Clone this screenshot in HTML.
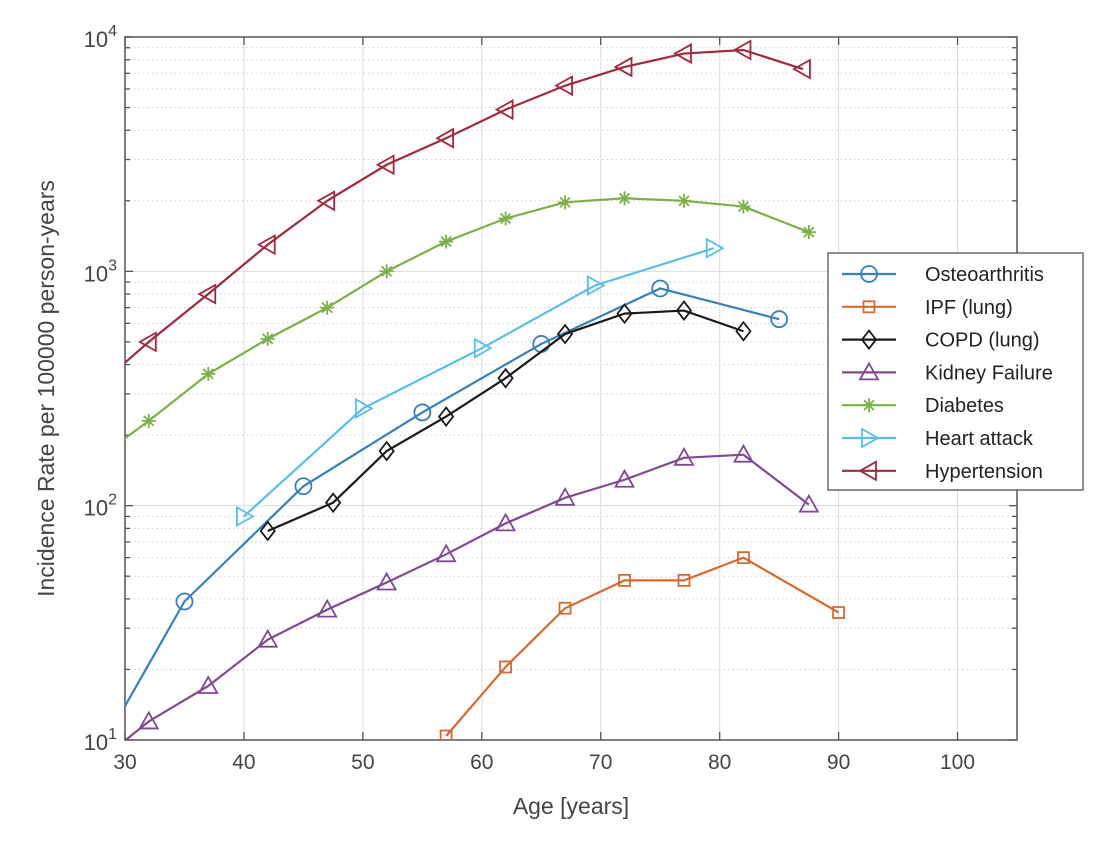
<!DOCTYPE html>
<html><head><meta charset="utf-8"><style>
body{margin:0;background:#fff;}
svg{font-family:"Liberation Sans",sans-serif;}
</style></head><body>
<svg id="chart" width="1118" height="838" xmlns="http://www.w3.org/2000/svg"></svg>
<script>
const hyperAge=[27,32,37,42,47,52,57,62,67,72,77,82,87];
const hyperVal=[300,500,800,1300,2000,2850,3700,4900,6200,7450,8500,8800,7300];
const diabAge=[27,32,37,42,47,52,57,62,67,72,77,82,87.5];
const diabVal=[150,230,365,515,700,1000,1340,1680,1970,2050,2000,1890,1470];
const osteoAge=[25,35,45,55,65,75,85];
const osteoVal=[5,39,121,250,490,845,625];
const ipfAge=[57,62,67,72,77,82,90];
const ipfVal=[10.4,20.5,36.5,48,48,60,35];
const copdAge=[42,47.5,52,57,62,67,72,77,82];
const copdVal=[78,103,171,240,350,540,660,680,555];
const kidAge=[27,32,37,42,47,52,57,62,67,72,77,82,87.5];
const kidVal=[7.5,12,17,26.8,36,47,62,84,108,129,160,165,101];
const heartAge=[40,50,60,69.5,79.5];
const heartVal=[90,260,470,870,1255];
const xTicks=[30,40,50,60,70,80,90,100];
const yTicks=[1,2,3,4];

const NS="http://www.w3.org/2000/svg";
const svg=document.getElementById('chart');
const L=125,R=1017,T=37,B=740;
const X=a=>L+(a-30)/(105-30)*(R-L);
const Y=v=>B-(Math.log10(v)-1)/3*(B-T);
function mk(tag,attrs,parent){const e=document.createElementNS(NS,tag);for(const k in attrs)e.setAttribute(k,attrs[k]);(parent||svg).appendChild(e);return e;}

const defs=mk('defs',{});
const cp=mk('clipPath',{id:'clip'},defs);
mk('rect',{x:L,y:T,width:R-L,height:B-T},cp);

const grid=mk('g',{});


for(let d=1;d<4;d++){for(let m=2;m<=9;m++){const y=Y(m*Math.pow(10,d));mk('line',{x1:L,x2:R,y1:y,y2:y,stroke:'#cfcfcf','stroke-dasharray':'1.5,3'},grid);}}
xTicks.forEach(a=>{if(a>30)mk('line',{x1:X(a),x2:X(a),y1:T,y2:B,stroke:'#dcdcdc'},grid);});
yTicks.forEach(p=>{if(p>1&&p<4)mk('line',{x1:L,x2:R,y1:Y(Math.pow(10,p)),y2:Y(Math.pow(10,p)),stroke:'#dcdcdc'},grid);});

const box=mk('rect',{x:L,y:T,width:R-L,height:B-T,fill:'none',stroke:'#555','stroke-width':1.5});



xTicks.forEach(a=>{
  mk('line',{x1:X(a),x2:X(a),y1:B,y2:B-8,stroke:'#555','stroke-width':1.3});
  mk('line',{x1:X(a),x2:X(a),y1:T,y2:T+8,stroke:'#555','stroke-width':1.3});
  const t=mk('text',{x:X(a),y:B+29,'text-anchor':'middle','font-size':21,fill:'#444'});
  t.textContent=a;
  
  
});
yTicks.forEach(p=>{
  const y=Y(Math.pow(10,p));
  mk('line',{x1:L,x2:L+8,y1:y,y2:y,stroke:'#555','stroke-width':1.3});
  mk('line',{x1:R,x2:R-8,y1:y,y2:y,stroke:'#555','stroke-width':1.3});
  const t=mk('text',{x:L-8,y:y+10,'text-anchor':'end','font-size':22,fill:'#444'});
  t.innerHTML='10<tspan dy="-11" font-size="16">'+p+'</tspan>';
  
  
});
for(let d=1;d<4;d++){for(let m=2;m<=9;m++){const y=Y(m*Math.pow(10,d));mk('line',{x1:L,x2:L+5,y1:y,y2:y,stroke:'#555','stroke-width':1.3});mk('line',{x1:R,x2:R-5,y1:y,y2:y,stroke:'#555','stroke-width':1.3});}}

const xl=mk('text',{x:(L+R)/2,y:814,'text-anchor':'middle','font-size':23,fill:'#444'});
xl.textContent='Age [years]';


const yl=mk('text',{x:0,y:0,'text-anchor':'middle','font-size':23,fill:'#444',transform:'translate(54,'+((T+B)/2)+') rotate(-90)'});
yl.textContent='Incidence Rate per 100000 person-years';



function marker(g,type,x,y,c){
  const s=8;
  if(type==='o')mk('circle',{cx:x,cy:y,r:s,fill:'none',stroke:c,'stroke-width':1.8},g);
  else if(type==='s')mk('rect',{x:x-5.5,y:y-5.5,width:11,height:11,fill:'none',stroke:c,'stroke-width':1.8},g);
  else if(type==='d')mk('polygon',{points:`${x},${y-9} ${x+7},${y} ${x},${y+9} ${x-7},${y}`,fill:'none',stroke:c,'stroke-width':1.8},g);
  else if(type==='^')mk('polygon',{points:`${x},${y-9} ${x+9},${y+7} ${x-9},${y+7}`,fill:'none',stroke:c,'stroke-width':1.8},g);
  else if(type==='>')mk('polygon',{points:`${x+9},${y} ${x-7},${y-9} ${x-7},${y+9}`,fill:'none',stroke:c,'stroke-width':1.8},g);
  else if(type==='<')mk('polygon',{points:`${x-9},${y} ${x+7},${y-9} ${x+7},${y+9}`,fill:'none',stroke:c,'stroke-width':1.8},g);
  else if(type==='*'){for(let k=0;k<4;k++){const an=k*Math.PI/4;mk('line',{x1:x-7*Math.cos(an),y1:y-7*Math.sin(an),x2:x+7*Math.cos(an),y2:y+7*Math.sin(an),stroke:c,'stroke-width':1.8},g);}}
}
const series=[
  ['Osteoarthritis',osteoAge,osteoVal,'#3A7EBA','o','series-osteoarthritis'],
  ['IPF (lung)',ipfAge,ipfVal,'#D46A33','s','series-ipf'],
  ['COPD (lung)',copdAge,copdVal,'#1a1a1a','d','series-copd'],
  ['Kidney Failure',kidAge,kidVal,'#7E4A93','^','series-kidney-failure'],
  ['Diabetes',diabAge,diabVal,'#7DAF4A','*','series-diabetes'],
  ['Heart attack',heartAge,heartVal,'#5CBDE6','>','series-heart-attack'],
  ['Hypertension',hyperAge,hyperVal,'#9E2A3E','<','series-hypertension']
];
series.forEach(([name,ages,vals,c,m,dn])=>{
  const g=mk('g',{'clip-path':'url(#clip)'});
  
  
  mk('polyline',{points:ages.map((a,i)=>X(a)+','+Y(vals[i])).join(' '),fill:'none',stroke:c,'stroke-width':2.2},g);
  ages.forEach((a,i)=>marker(g,m,X(a),Y(vals[i]),c));
});

const lg=mk('g',{});


mk('rect',{x:828,y:253,width:255,height:237,fill:'#fff',stroke:'#555','stroke-width':1.3},lg);
series.forEach(([name,,,c,m],i)=>{
  const y=274+i*32.8;
  const e=mk('g',{},lg);
  
  
  mk('line',{x1:842,x2:896,y1:y,y2:y,stroke:c,'stroke-width':2.2},e);
  marker(e,m,869,y,c);
  const t=mk('text',{x:925,y:y+7,'font-size':20,fill:'#222'},e);
  t.textContent=name;
});
</script>
</body></html>
